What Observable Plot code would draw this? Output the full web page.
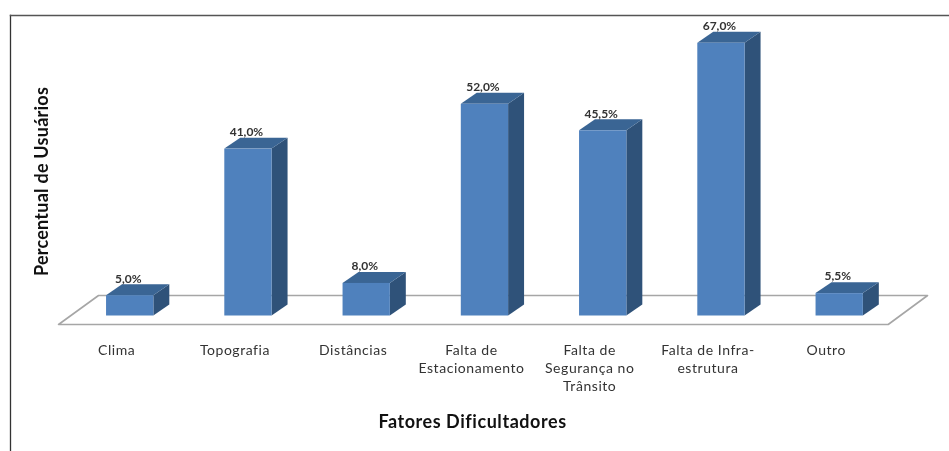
<!DOCTYPE html>
<html><head><meta charset="utf-8">
<script src="https://cdn.jsdelivr.net/npm/d3@7"></script>
<script src="https://cdn.jsdelivr.net/npm/@observablehq/plot@0.6"></script>
<style>html,body{margin:0;padding:0;background:#fff}svg{display:block;filter:blur(.45px)}
.cat text{letter-spacing:.55px}.xt text{letter-spacing:.55px}.yt text{letter-spacing:.25px}</style>
</head><body><div id="c"></div>
<script>
const categories = ["Clima","Topografia","Distâncias","Falta de\nEstacionamento","Falta de\nSegurança no\nTrânsito","Falta de Infra-\nestrutura","Outro"];
const values = [5.0,41.0,8.0,52.0,45.5,67.0,5.5];
const labels = ["5,0%","41,0%","8,0%","52,0%","45,5%","67,0%","5,5%"];
const halfW = 0.2, depthX = 0.135, depthY = 2.7;
const floorX = [-0.268,6.743,6.41,-0.606,-0.268];
const floorY = [5.04,5.04,-2.09,-2.09,5.04];
const font = "Lato, 'Open Sans', sans-serif";

const bars = values.map((v,i)=>({i,v,label:labels[i],cat:categories[i]}));
const sideFaces = bars.flatMap(d=>[
  {z:d.i,x:d.i+halfW,y1:0,y2:d.v},
  {z:d.i,x:d.i+halfW+depthX,y1:depthY,y2:d.v+depthY}]);
const topFaces = bars.flatMap(d=>[
  {z:d.i,x:d.i-halfW,y1:d.v,y2:d.v},
  {z:d.i,x:d.i-halfW+depthX,y1:d.v,y2:d.v+depthY},
  {z:d.i,x:d.i+halfW,y1:d.v,y2:d.v+depthY},
  {z:d.i,x:d.i+halfW+depthX,y1:d.v+depthY,y2:d.v+depthY}]);

const chart = Plot.plot({
  width:949,height:451,
  marginLeft:10,marginTop:15,marginRight:0,marginBottom:0,
  style:{fontFamily:font,background:"#fff"},
  x:{domain:[0,6],range:[129.7,839.2],axis:null},
  y:{domain:[0,67],range:[315.5,42.8],axis:null},
  marks:[
    Plot.frame({anchor:"left",stroke:"#333",strokeWidth:1.3}),
    Plot.frame({anchor:"top",stroke:"#555",strokeWidth:1.5}),
    Plot.line(floorX.map((x,k)=>({x,y:floorY[k]})),{x:"x",y:"y",stroke:"#a6a6a6",strokeWidth:1.6}),
    Plot.areaY(sideFaces,{x:"x",y1:"y1",y2:"y2",z:"z",fill:"#2f5279"}),
    Plot.areaY(topFaces,{x:"x",y1:"y1",y2:"y2",z:"z",fill:"#3a6594"}),
    Plot.rect(bars,{x1:d=>d.i-halfW,x2:d=>d.i+halfW,y1:0,y2:"v",fill:"#4f81bd"}),
    Plot.text(bars,{x:"i",y:d=>d.v+depthY,text:"label",dx:-2,dy:-6,fontSize:12,fontWeight:"bold",fill:"#333"}),
    Plot.text(bars,{x:"i",y:0,text:"cat",dx:-13.5,dy:26,lineAnchor:"top",lineHeight:1.3,fontSize:14,fill:"#333",className:"cat"}),
    Plot.text(["Fatores Dificultadores"],{frameAnchor:"top-left",textAnchor:"middle",lineAnchor:"middle",dx:462,dy:407,fontSize:18,fontWeight:"bold",fill:"#111",className:"xt"}),
    Plot.text(["Percentual de Usuários"],{frameAnchor:"top-left",textAnchor:"middle",lineAnchor:"middle",dx:32,dy:166,rotate:-90,fontSize:18,fontWeight:"bold",fill:"#111",className:"yt"})
  ]
});
document.getElementById("c").append(chart);
</script></body></html>
